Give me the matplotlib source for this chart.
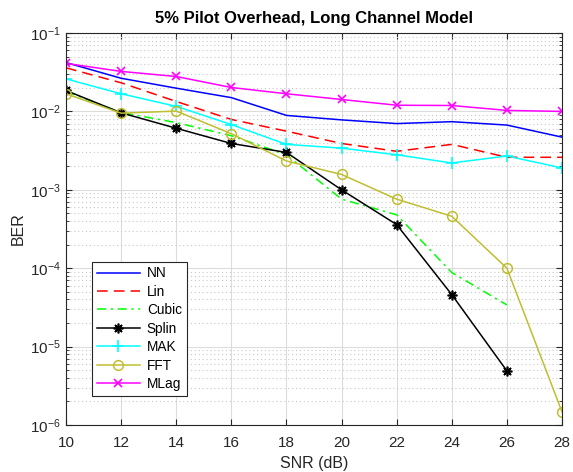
import numpy as np
import matplotlib
matplotlib.use('Agg')
import matplotlib.pyplot as plt
from matplotlib.ticker import LogLocator, NullFormatter

# -------------------------------------------------------------------------
# 데이터
# -------------------------------------------------------------------------
snr = [10, 12, 14, 16, 18, 20, 22, 24, 26, 28]
snr_short = [10, 12, 14, 16, 18, 20, 22, 24, 26]

ber_nn    = [0.042, 0.0265, 0.0198, 0.0150, 0.0089, 0.0078, 0.0070, 0.0074, 0.0067, 0.0047]
ber_lin   = [0.036, 0.0232, 0.0134, 0.0079, 0.0056, 0.0039, 0.0031, 0.0038, 0.0026, 0.0026]
ber_cubic = [0.018, 0.0097, 0.0072, 0.0049, 0.0028, 0.00076, 0.00048, 8.8e-5, 3.4e-5]
ber_splin = [0.0185, 0.0096, 0.0061, 0.0039, 0.0030, 0.00100, 0.00036, 4.6e-5, 4.9e-6]
ber_mak   = [0.026, 0.0168, 0.0116, 0.0068, 0.0038, 0.0034, 0.0028, 0.0022, 0.0027, 0.0019]
ber_fft   = [0.0168, 0.0095, 0.0101, 0.0052, 0.00233, 0.00157, 0.00076, 0.00046, 1.0e-4, 1.47e-6]
ber_mlag  = [0.041, 0.0324, 0.0279, 0.0202, 0.0168, 0.0142, 0.0120, 0.0119, 0.0103, 0.0100]

LABELS = ['NN', 'Lin', 'Cubic', 'Splin', 'MAK', 'FFT', 'MLag']

plt.rcParams['font.family'] = ['Liberation Sans', 'DejaVu Sans']

fig = plt.figure(figsize=(5.73, 4.72), dpi=100)
ax = fig.add_axes([0.1152, 0.0996, 0.8656, 0.8304])

lw = 1.1
ax.semilogy(snr, ber_nn, color='#0000FF', linewidth=lw, label=LABELS[0])
ax.semilogy(snr, ber_lin, color='#FF0000', linestyle=(0, (7, 4)), linewidth=lw, label=LABELS[1])
ax.semilogy(snr_short, ber_cubic, color='#00FF00', linestyle=(0, (6, 3, 1.5, 3)), linewidth=lw, label=LABELS[2])
ax.semilogy(snr_short, ber_splin, color='black', marker=(8, 2, 0), markersize=7, markeredgewidth=1.2,
            linewidth=lw, label=LABELS[3])
ax.semilogy(snr, ber_mak, color='#00FFFF', marker='+', markersize=8, markeredgewidth=1.2,
            linewidth=lw, label=LABELS[4])
ax.semilogy(snr, ber_fft, color='#C0BE30', marker='o', markersize=7, markerfacecolor='none',
            markeredgewidth=1.1, linewidth=lw, label=LABELS[5])
ax.semilogy(snr, ber_mlag, color='#FF00FF', marker='x', markersize=6, markeredgewidth=1.2,
            linewidth=lw, label=LABELS[6])

ax.set_xlim(10, 28)
ax.set_ylim(1e-6, 1e-1)
ax.set_xticks(np.arange(10, 29, 2))
ax.yaxis.set_major_locator(LogLocator(base=10, numticks=10))
ax.yaxis.set_minor_locator(LogLocator(base=10, subs=np.arange(2, 10), numticks=10))
ax.yaxis.set_minor_formatter(NullFormatter())

# MATLAB 스타일 그리드
ax.grid(True, which='major', color='#DCDCDC', linestyle='-', linewidth=0.8)
ax.grid(True, which='minor', axis='y', color='#C8C8C8', linestyle=(0, (1, 2.5)), linewidth=0.8)
ax.set_axisbelow(True)

ax.tick_params(which='both', direction='in', top=True, right=True, labelsize=11, colors='#262626')
ax.tick_params(axis='x', which='major', pad=8)
ax.tick_params(axis='y', which='major', pad=4)
ax.tick_params(which='major', length=4)
ax.tick_params(which='minor', length=2)
for s in ax.spines.values():
    s.set_color('#262626')
    s.set_linewidth(0.8)

ax.set_xlabel('SNR (dB)', fontsize=11.5, color='#262626', labelpad=4)
ax.set_ylabel('BER', fontsize=11.5, color='#262626', labelpad=3)
ax.set_title('5% Pilot Overhead, Long Channel Model', fontsize=12, fontweight='bold', pad=7)

leg = ax.legend(loc='lower left', bbox_to_anchor=(0.052, 0.074), fontsize=9.8, fancybox=False,
                edgecolor='#262626', framealpha=1, borderpad=0.35, labelspacing=0.33,
                handlelength=3.2, handletextpad=0.5, borderaxespad=0)
leg.get_frame().set_linewidth(0.8)

plt.savefig('out.png', dpi=100)
